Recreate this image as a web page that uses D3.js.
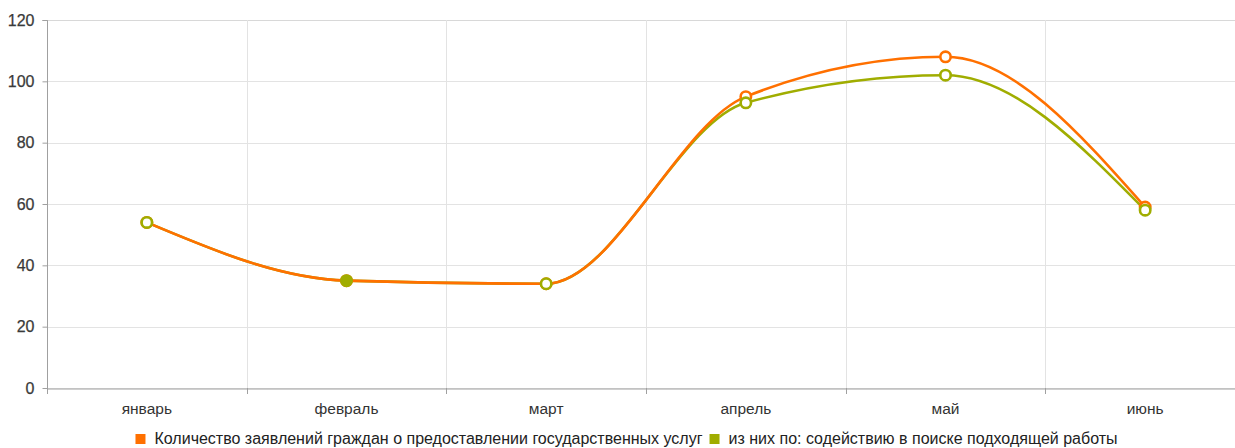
<!DOCTYPE html>
<html><head><meta charset="utf-8">
<script src="https://cdn.jsdelivr.net/npm/d3@7"></script>
<style>
html,body{margin:0;padding:0;background:#fff;overflow:hidden;}
svg{display:block;font-family:"Liberation Sans",Arial,sans-serif;}
</style></head>
<body>
<svg id="chart" width="1235" height="448"></svg>
<script>
const categories = ["январь","февраль","март","апрель","май","июнь"];
const seriesNames = ["Количество заявлений граждан о предоставлении государственных услуг","из них по: содействию в поиске подходящей работы"];
const applications = [54, 35, 34, 95, 108, 59];
const jobSearch = [54, 35, 34, 93, 102, 58];
const yTicks = [0, 20, 40, 60, 80, 100, 120];
const colors = ["#ff7000", "#a0ad00"];

(function () {
const svg = d3.select("#chart");
const pLeft = 47, pRight = 1245, pTop = 20, pBottom = 388;
const x = d3.scaleBand().domain(categories).range([pLeft, pRight]).padding(0);
const y = d3.scaleLinear().domain([0, 120]).range([pBottom, pTop]);

// grid
const g = svg.append("g");
g.selectAll(".hg").data(yTicks).join("line")
  .attr("x1", pLeft).attr("x2", pRight)
  .attr("y1", d => Math.round(y(d)) + 0.5).attr("y2", d => Math.round(y(d)) + 0.5)
  .attr("stroke", d => d === 120 ? "#d8d8d8" : "#e3e3e3").attr("stroke-width", 1);
g.selectAll(".vg").data(categories.slice(1)).join("line")
  .attr("x1", d => Math.round(x(d)) + 0.5).attr("x2", d => Math.round(x(d)) + 0.5)
  .attr("y1", pTop).attr("y2", pBottom)
  .attr("stroke", "#e3e3e3");

// axes
const yAxis = svg.append("g").attr("transform", `translate(${pLeft + 0.5},0)`)
  .call(d3.axisLeft(y).tickValues(yTicks).tickSize(5).tickPadding(8));
yAxis.select(".domain").attr("stroke", "#a0a0a0").attr("d", `M-5,${pTop + 0.5}H0V${pBottom + 0.5}`);
yAxis.selectAll(".tick line").attr("stroke", "#a0a0a0");
yAxis.selectAll("text").attr("font-size", 16).attr("fill", "#3a3a3a").attr("stroke", "#3a3a3a").attr("stroke-width", 0.25)
  .attr("font-family", "Liberation Sans, Arial, sans-serif");

const xAxis = svg.append("g").attr("transform", `translate(0,${pBottom + 0.5})`)
  .call(d3.axisBottom(x).tickSize(0));
xAxis.select(".domain").attr("stroke", "#a0a0a0");
xAxis.selectAll("text").attr("font-size", 15.5).attr("fill", "#333")
  .attr("y", 25.5).attr("dy", null)
  .attr("font-family", "Liberation Sans, Arial, sans-serif");
// band boundary ticks
svg.append("g").selectAll("line").data(categories).join("line")
  .attr("x1", d => Math.round(x(d)) + 0.5).attr("x2", d => Math.round(x(d)) + 0.5)
  .attr("y1", pBottom).attr("y2", pBottom + 6).attr("stroke", "#a0a0a0");

const cx = d => x(d) + x.bandwidth() / 2;
const line = d3.line().x((d, i) => cx(categories[i])).y(d => y(d)).curve(d3.curveMonotoneX);

const data = [applications, jobSearch];
svg.append("path").attr("d", line(jobSearch)).attr("fill", "none").attr("stroke", colors[1]).attr("stroke-width", 2.6);
svg.append("path").attr("d", line(applications)).attr("fill", "none").attr("stroke", colors[0]).attr("stroke-width", 2.6);

[0, 1].forEach(s => {
  svg.append("g").selectAll("circle").data(data[s]).join("circle")
    .attr("cx", (d, i) => cx(categories[i])).attr("cy", d => y(d))
    .attr("r", 5.2)
    .attr("fill", (d, i) => (s === 1 && i === 1) ? colors[1] : "#fff")
    .attr("stroke", colors[s]).attr("stroke-width", 2.6);
});

// legend
const leg = svg.append("g");
const items = leg.selectAll("g").data(seriesNames).join("g");
items.append("rect").attr("width", 10).attr("height", 10).attr("y", -9.5)
  .attr("fill", (d, i) => colors[i]);
items.append("text").attr("x", 19).attr("y", 0).attr("font-size", 16).attr("fill", "#222")
  .text(d => d);
const widths = [];
items.each(function(d, i) {
  widths.push(19 + d3.select(this).select("text").node().getComputedTextLength());
});
const gap = 7;
const total = widths[0] + gap + widths[1];
const start = 626.5 - total / 2;
items.attr("transform", (d, i) => {
  const tx = i === 0 ? start : start + widths[0] + gap;
  return `translate(${tx},443.5)`;
});
})();
</script>
</body></html>
